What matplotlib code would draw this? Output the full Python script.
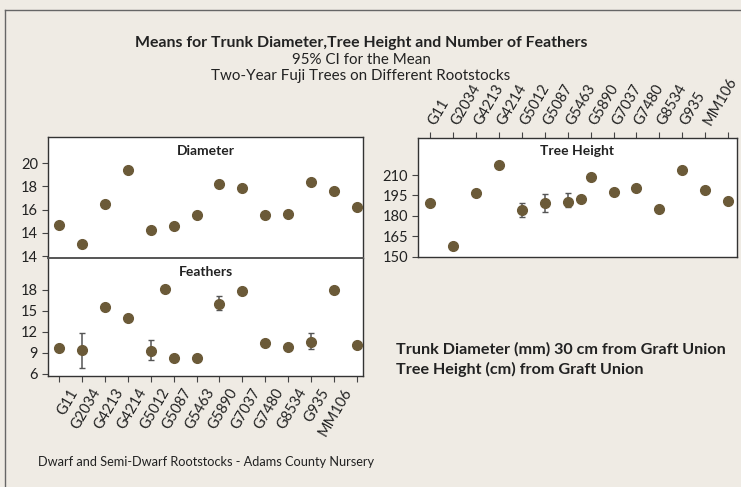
import numpy as np
import matplotlib
matplotlib.use("Agg")
import matplotlib.pyplot as plt
from matplotlib.lines import Line2D
from matplotlib.transforms import ScaledTranslation

plt.rcParams['font.family'] = ['Lato', 'DejaVu Sans']

# rootstock labels (the last tick has no label in the source chart)
rootstocks = ["G11", "G2034", "G4213", "G4214", "G5012", "G5087", "G5463",
              "G5890", "G7037", "G7480", "G8534", "G935", "MM106", ""]

# trunk diameter (mm)
diam_pos = [0, 1, 2, 3, 4, 5, 6, 7, 8, 9, 10, 11, 12, 13]
diam_mean = [14.7, 13.0, 16.5, 19.4, 14.25, 14.6, 15.5, 18.2, 17.9, 15.5, 15.65, 18.35, 17.6, 16.2]

# number of feathers
feat_pos = [0, 1, 2, 3, 4, 4.63, 5, 6, 7, 8, 9, 10, 11, 12, 13]
feat_mean = [9.7, 9.4, 15.6, 14.05, 9.3, 18.1, 8.3, 8.3, 16.05, 17.8, 10.4, 9.9, 10.6, 17.95, 10.2]
feat_lo = [9.7, 6.8, 15.6, 14.05, 8.05, 18.1, 8.3, 8.3, 15.2, 17.8, 10.4, 9.9, 9.55, 17.95, 10.2]
feat_hi = [9.7, 11.9, 15.6, 14.05, 10.85, 18.1, 8.3, 8.3, 17.1, 17.8, 10.4, 9.9, 11.9, 17.95, 10.2]

# tree height (cm)
ht_pos = [0, 1, 2, 3, 4, 5, 6, 6.6, 7, 8, 9, 10, 11, 12, 13]
ht_mean = [189.2, 157.6, 196.5, 217.5, 184.1, 189.2, 189.9, 192.6, 208.3, 197.5, 200.7, 185.0, 213.7, 199.2, 190.9]
ht_lo = [189.2, 157.6, 196.5, 217.5, 178.9, 182.6, 186.3, 192.6, 208.3, 197.5, 200.7, 185.0, 213.7, 199.2, 190.9]
ht_hi = [189.2, 157.6, 196.5, 217.5, 189.2, 196.0, 196.5, 192.6, 208.3, 197.5, 200.7, 185.0, 213.7, 199.2, 190.9]

W, H = 741, 487
bg = "#efebe4"
dot = "#6b5a38"
bar = "#555555"
txt = "#222222"


def box(l, t, r, b):
    return [l / W, 1 - b / H, (r - l) / W, (b - t) / H]


def style(ax):
    for s in ax.spines.values():
        s.set_color("#333333")
        s.set_linewidth(1.0)
    ax.tick_params(colors="#444444", labelcolor=txt, labelsize=10.5, length=4, width=0.8)


def draw(ax, pos, mean, lo=None, hi=None):
    if lo is not None:
        m = np.array(mean)
        yerr = [m - np.array(lo), np.array(hi) - m]
        ax.errorbar(pos, mean, yerr=yerr, fmt="none", ecolor=bar, elinewidth=1.1,
                    capsize=2.5, capthick=1.0, zorder=2)
    ax.plot(pos, mean, "o", color=dot, markersize=7, zorder=3)


def shift_labels(ax, dx_px):
    off = ScaledTranslation(dx_px / 100, 0, fig.dpi_scale_trans)
    for lab in ax.get_xticklabels():
        lab.set_transform(lab.get_transform() + off)


fig = plt.figure(figsize=(W / 100, H / 100), dpi=100, facecolor=bg)

# outer frame lines (top and left only visible)
fig.add_artist(Line2D([5 / W, 1], [1 - 10 / H, 1 - 10 / H], color="#666666", lw=1.0))
fig.add_artist(Line2D([5 / W, 5 / W], [0, 1 - 10 / H], color="#666666", lw=1.0))

fig.text(361 / W, 1 - 43 / H, "Means for Trunk Diameter,Tree Height and Number of Feathers",
         ha="center", va="center", fontsize=11.4, fontweight="bold", color=txt)
fig.text(361 / W, 1 - 60 / H, "95% CI for the Mean", ha="center", va="center",
         fontsize=10.9, color=txt)
fig.text(361 / W, 1 - 76 / H, "Two-Year Fuji Trees on Different Rootstocks", ha="center",
         va="center", fontsize=10.9, color=txt)

ticks = np.arange(len(rootstocks))

# diameter panel
ax1 = fig.add_axes(box(48.3, 137.3, 363, 258))
draw(ax1, diam_pos, diam_mean)
ax1.set_xlim(-0.48, 13.28)
ax1.set_ylim(11.83, 22.24)
ax1.set_yticks([12, 14, 16, 18, 20])
ax1.set_yticklabels(["14", "14", "16", "18", "20"])
ax1.set_xticks([])
ax1.text(0.5, 0.89, "Diameter", transform=ax1.transAxes, ha="center", va="center",
         fontsize=10, fontweight="bold", color=txt)
style(ax1)
ax1.spines["bottom"].set_visible(False)

# feathers panel
ax2 = fig.add_axes(box(48.3, 258, 363, 375.7))
draw(ax2, feat_pos, feat_mean, feat_lo, feat_hi)
ax2.set_xlim(-0.48, 13.28)
ax2.set_ylim(5.75, 22.57)
ax2.set_yticks([6, 9, 12, 15, 18])
ax2.set_xticks(ticks)
ax2.set_xticklabels(rootstocks, rotation=60, ha="right", rotation_mode="anchor")
ax2.text(0.5, 0.88, "Feathers", transform=ax2.transAxes, ha="center", va="center",
         fontsize=10, fontweight="bold", color=txt)
style(ax2)
ax2.spines["top"].set_color("#555555")
ax2.spines["top"].set_linewidth(1.4)
shift_labels(ax2, 9)

# tree height panel
ax3 = fig.add_axes(box(418.3, 137.7, 736.7, 257))
draw(ax3, ht_pos, ht_mean, ht_lo, ht_hi)
ax3.set_xlim(-0.51, 13.37)
ax3.set_ylim(149.8, 237.4)
ax3.set_yticks([150, 165, 180, 195, 210])
ax3.xaxis.tick_top()
ax3.set_xticks(ticks)
ax3.set_xticklabels(rootstocks, rotation=60, ha="left", rotation_mode="anchor")
ax3.text(0.5, 0.89, "Tree Height", transform=ax3.transAxes, ha="center", va="center",
         fontsize=10, fontweight="bold", color=txt)
style(ax3)
shift_labels(ax3, 8)

fig.text(396 / W, 1 - 349 / H, "Trunk Diameter (mm) 30 cm from Graft Union", ha="left",
         va="center", fontsize=11.6, fontweight="bold", color=txt)
fig.text(396 / W, 1 - 369 / H, "Tree Height (cm) from Graft Union", ha="left",
         va="center", fontsize=11.6, fontweight="bold", color=txt)

fig.text(38 / W, 1 - 462 / H, "Dwarf and Semi-Dwarf Rootstocks - Adams County Nursery",
         ha="left", va="center", fontsize=9.2, color=txt)

fig.savefig("out.png", dpi=100, facecolor=bg)
